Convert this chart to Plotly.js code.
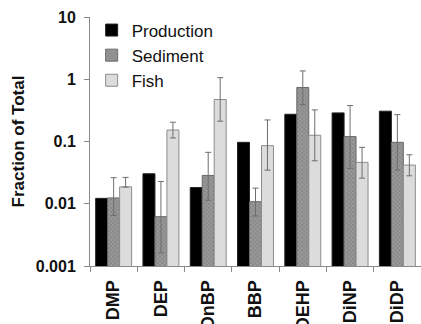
<!DOCTYPE html>
<html>
<head>
<meta charset="utf-8">
<script src="https://cdn.plot.ly/plotly-3.0.1.min.js"></script>
<style>html,body{margin:0;padding:0;background:#fff;}#chart{width:421px;height:324px;}</style>
</head>
<body>
<div id="chart"></div>
<script>
const categories = ["DMP", "DEP", "DnBP", "BBP", "DEHP", "DiNP", "DiDP"];

const production = [0.0122, 0.0303, 0.0182, 0.097, 0.274, 0.288, 0.307];

const sediment = [0.0124, 0.0062, 0.0285, 0.0108, 0.738, 0.12, 0.097];
const sedimentUpper = [0.0262, 0.0228, 0.067, 0.0178, 1.36, 0.378, 0.27];
const sedimentLower = [0.0065, 0.00163, 0.0114, 0.00636, 0.392, 0.037, 0.0347];

const fish = [0.0187, 0.153, 0.473, 0.0857, 0.126, 0.0462, 0.0418];
const fishUpper = [0.0265, 0.204, 1.06, 0.222, 0.322, 0.0806, 0.0612];
const fishLower = [0.0185, 0.114, 0.212, 0.0347, 0.049, 0.0258, 0.0281];

const yTickVals = [0.001, 0.01, 0.1, 1, 10];
const yTickText = ["0.001", "0.01", "0.1", "1", "10"];

const plus = (v, u) => v.map((x, i) => u[i] - x);
const minus = (v, l) => v.map((x, i) => x - l[i]);

const FONT = "Liberation Sans, Arial, sans-serif";
const errStyle = {type: "data", symmetric: false, color: "#6e6e6e", thickness: 1, width: 3};

const traces = [
  {type: "bar", name: "Production", x: categories, y: production,
   marker: {color: "#000000", line: {color: "#222222", width: 1}}},
  {type: "bar", name: "Sediment", x: categories, y: sediment,
   marker: {color: "#8e8e8e", line: {color: "#6a6a6a", width: 1},
            pattern: {shape: "x", size: 3, solidity: 0.25, fgcolor: "#6f6f6f", bgcolor: "#999999"}},
   error_y: Object.assign({array: plus(sediment, sedimentUpper), arrayminus: minus(sediment, sedimentLower)}, errStyle)},
  {type: "bar", name: "Fish", x: categories, y: fish,
   marker: {color: "#dcdcdc", line: {color: "#8c8c8c", width: 1}},
   error_y: Object.assign({array: plus(fish, fishUpper), arrayminus: minus(fish, fishLower)}, errStyle)}
];

const layout = {
  width: 421, height: 324,
  margin: {l: 90, r: 0, t: 17, b: 58, autoexpand: false},
  paper_bgcolor: "#ffffff", plot_bgcolor: "#ffffff",
  barmode: "group", bargap: 0.24, bargroupgap: 0,
  showlegend: true,
  legend: {x: 0.005, y: 1.018, xanchor: "left", yanchor: "top", bgcolor: "rgba(0,0,0,0)",
           font: {family: FONT, size: 17, color: "#111111"}, tracegroupgap: 0, itemwidth: 30},
  xaxis: {
    type: "category", automargin: false,
    showline: true, linecolor: "#8a8a8a", linewidth: 1,
    ticks: "outside", ticklen: 5, tickcolor: "#8a8a8a", tickson: "boundaries",
    tickangle: -90, ticklabelstandoff: 6,
    tickfont: {family: FONT, size: 18, color: "#111111", weight: "bold"},
    showgrid: false, zeroline: false
  },
  yaxis: {
    type: "log", range: [-3, 1], automargin: false,
    showline: true, linecolor: "#8a8a8a", linewidth: 1,
    ticks: "outside", ticklen: 5, tickcolor: "#8a8a8a",
    tickvals: yTickVals, ticktext: yTickText, ticklabelstandoff: 5,
    tickfont: {family: FONT, size: 16, color: "#111111", weight: "bold"},
    showgrid: false, zeroline: false,
    title: {text: "Fraction of Total", standoff: 6,
            font: {family: FONT, size: 17, color: "#111111", weight: "bold"}}
  }
};

Plotly.newPlot("chart", traces, layout, {displayModeBar: false, staticPlot: true});
</script>
</body>
</html>
